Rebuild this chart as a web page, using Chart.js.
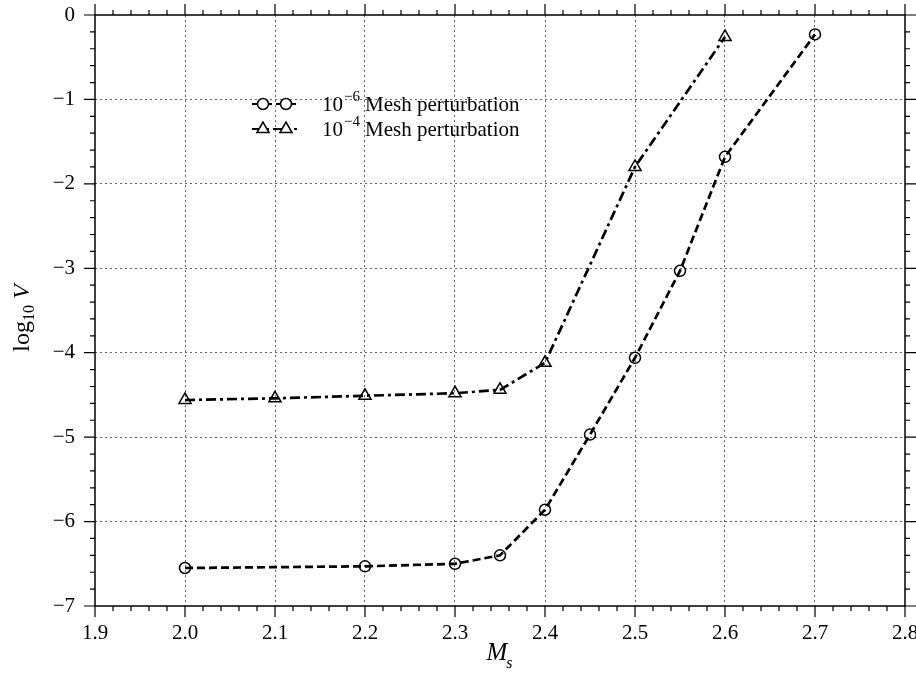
<!DOCTYPE html>
<html>
<head>
<meta charset="utf-8">
<script src="https://cdn.jsdelivr.net/npm/chart.js@4/dist/chart.umd.min.js"></script>
<style>
  body { margin: 0; background: #fff; }
  #wrap { width: 916px; height: 689px; }
</style>
</head>
<body>
<div id="wrap"><canvas id="chart"></canvas></div>
<script>
// data
const machFine = [2.0, 2.2, 2.3, 2.35, 2.4, 2.45, 2.5, 2.55, 2.6, 2.7];
const logVFine = [-6.55, -6.53, -6.50, -6.40, -5.86, -4.97, -4.06, -3.03, -1.68, -0.23];
const machCoarse = [2.0, 2.1, 2.2, 2.3, 2.35, 2.4, 2.5, 2.6];
const logVCoarse = [-4.56, -4.54, -4.51, -4.48, -4.44, -4.12, -1.80, -0.26];
const legendSup = ['\u22126', '\u22124'];
const xRange = [1.9, 2.8];
const yRange = [-7, 0];

Chart.defaults.font.family = '"Liberation Serif", "DejaVu Serif", serif';
Chart.defaults.color = '#000';

function pts(xs, ys) {
    return xs.map((x, i) => ({ x: x, y: ys[i] }));
}

function isEdge(v, range) {
    return Math.abs(v - range[0]) < 1e-6 || Math.abs(v - range[1]) < 1e-6;
}

// frame, tick marks, legend and axis titles
const decorations = {
    id: 'decorations',
    afterDraw(chart) {
        const ctx = chart.ctx;
        const a = chart.chartArea;
        const xs = chart.scales.x, ys = chart.scales.y;
        ctx.save();
        ctx.strokeStyle = '#000';
        ctx.lineWidth = 1.5;
        ctx.setLineDash([]);
        ctx.strokeRect(a.left, a.top, a.right - a.left, a.bottom - a.top);

        ctx.lineWidth = 1.2;
        ctx.beginPath();
        for (let i = 0; i <= 45; i++) {
            const v = xRange[0] + i * 0.02;
            const px = xs.getPixelForValue(v);
            const len = i % 5 === 0 ? 11 : 5;
            ctx.moveTo(px, a.bottom); ctx.lineTo(px, a.bottom + len);
            ctx.moveTo(px, a.top); ctx.lineTo(px, a.top - len);
        }
        for (let i = 0; i <= 35; i++) {
            const v = yRange[0] + i * 0.2;
            const py = ys.getPixelForValue(v);
            const len = i % 5 === 0 ? 11 : 5;
            ctx.moveTo(a.left, py); ctx.lineTo(a.left - len, py);
            ctx.moveTo(a.right, py); ctx.lineTo(a.right + len, py);
        }
        ctx.stroke();

        // legend
        const rows = [
            { y: 104, ds: chart.data.datasets[0], sup: legendSup[0] },
            { y: 129, ds: chart.data.datasets[1], sup: legendSup[1] }
        ];
        rows.forEach(r => {
            ctx.strokeStyle = '#000';
            ctx.lineWidth = 2;
            ctx.setLineDash(r.ds.borderDash);
            ctx.beginPath();
            ctx.moveTo(252, r.y); ctx.lineTo(297, r.y);
            ctx.stroke();
            ctx.setLineDash([]);
            ctx.lineWidth = 1.5;
            ctx.fillStyle = '#fff';
            [263, 286].forEach(mx => {
                Chart.helpers.drawPoint(ctx, {
                    pointStyle: r.ds.pointStyle,
                    radius: r.ds.pointRadius,
                    borderWidth: 1.5
                }, mx, r.y);
            });
            ctx.fillStyle = '#000';
            ctx.textBaseline = 'alphabetic';
            ctx.textAlign = 'left';
            ctx.font = '21px "Liberation Serif"';
            let tx = 322;
            ctx.fillText('10', tx, r.y + 7);
            tx += ctx.measureText('10').width + 1;
            ctx.font = '15px "Liberation Serif"';
            ctx.fillText(r.sup, tx, r.y - 3);
            tx += ctx.measureText(r.sup).width + 5;
            ctx.font = '21px "Liberation Serif"';
            ctx.fillText('Mesh perturbation', tx, r.y + 7);
        });

        // x title: M_s
        ctx.font = 'italic 25px "Liberation Serif"';
        const mw = ctx.measureText('M').width;
        ctx.font = 'italic 16px "Liberation Serif"';
        const sw = ctx.measureText('s').width;
        let x0 = (a.left + a.right) / 2 - (mw + sw) / 2;
        ctx.font = 'italic 25px "Liberation Serif"';
        ctx.fillText('M', x0, 660);
        ctx.font = 'italic 16px "Liberation Serif"';
        ctx.fillText('s', x0 + mw - 1, 668);

        // y title: log10 V
        ctx.translate(29, 318);
        ctx.rotate(-Math.PI / 2);
        ctx.font = '24px "Liberation Serif"';
        const lw = ctx.measureText('log').width;
        ctx.font = '16px "Liberation Serif"';
        const nw = ctx.measureText('10').width;
        ctx.font = 'italic 24px "Liberation Serif"';
        const vw = ctx.measureText('V').width;
        let sx = -(lw + nw + 6 + vw) / 2;
        ctx.font = '24px "Liberation Serif"';
        ctx.fillText('log', sx, 0);
        ctx.font = '16px "Liberation Serif"';
        ctx.fillText('10', sx + lw, 5);
        ctx.font = 'italic 24px "Liberation Serif"';
        ctx.fillText('V', sx + lw + nw + 6, 0);
        ctx.restore();
    }
};

const gridOpts = range => ({
    color: c => isEdge(c.tick.value, range) ? 'rgba(0,0,0,0)' : '#666',
    lineWidth: 1,
    drawTicks: false
});

function fixBox(s, w, h) {
    if (w) s.width = w;
    if (h) s.height = h;
    s.paddingTop = 0;
    s.paddingBottom = 0;
    s.paddingLeft = 0;
    s.paddingRight = 0;
}

new Chart(document.getElementById('chart'), {
    type: 'line',
    data: {
        datasets: [{
            label: '10^-6 Mesh perturbation',
            data: pts(machFine, logVFine),
            borderColor: '#000',
            borderWidth: 2.7,
            borderDash: [8, 4],
            pointStyle: 'circle',
            pointRadius: 5.5,
            pointBorderWidth: 1.5,
            pointBorderColor: '#000',
            pointBackgroundColor: 'rgba(0,0,0,0)',
            fill: false,
            tension: 0
        }, {
            label: '10^-4 Mesh perturbation',
            data: pts(machCoarse, logVCoarse),
            borderColor: '#000',
            borderWidth: 2.7,
            borderDash: [10, 4, 3, 4],
            pointStyle: 'triangle',
            pointRadius: 7,
            pointBorderWidth: 1.5,
            pointBorderColor: '#000',
            pointBackgroundColor: 'rgba(0,0,0,0)',
            fill: false,
            tension: 0
        }]
    },
    options: {
        responsive: true,
        maintainAspectRatio: false,
        animation: false,
        layout: { autoPadding: false, padding: { top: 15, right: 11, left: 0, bottom: 0 } },
        plugins: { legend: { display: false }, tooltip: { enabled: false } },
        scales: {
            x: {
                type: 'linear',
                min: xRange[0], max: xRange[1],
                afterFit: s => fixBox(s, 0, 83),
                grid: gridOpts(xRange),
                border: { display: false, dash: [2, 3] },
                ticks: {
                    stepSize: 0.1,
                    padding: 15,
                    font: { size: 21 },
                    maxRotation: 0,
                    callback: v => v.toFixed(1)
                }
            },
            y: {
                min: yRange[0], max: yRange[1],
                afterFit: s => fixBox(s, 95, 0),
                grid: gridOpts(yRange),
                border: { display: false, dash: [2, 3] },
                ticks: {
                    stepSize: 1,
                    padding: 20,
                    font: { size: 21 },
                    callback: v => String(Math.round(v)).replace('-', '\u2212')
                }
            }
        }
    },
    plugins: [decorations]
});
</script>
</body>
</html>
